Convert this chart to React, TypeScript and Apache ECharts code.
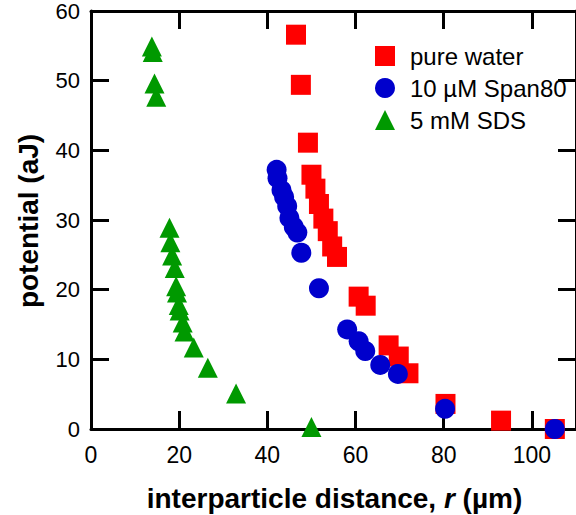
import React, { useEffect, useRef } from "react";
import * as echarts from "echarts";

const xTicks = [0, 20, 40, 60, 80, 100];
const yTicks = [0, 10, 20, 30, 40, 50, 60];
const X_MAX = 110;
const Y_MAX = 60;

const pureWater: number[][] = [
  [46.5, 56.6], [47.6, 49.4], [49.2, 41.1], [50.0, 36.5], [50.9, 34.5], [51.7, 32.3],
  [52.7, 30.2], [53.7, 28.4], [54.7, 26.2], [55.8, 24.7], [60.7, 19.0], [62.3, 17.7],
  [67.5, 12.0], [69.8, 10.4], [72.0, 8.0], [80.4, 3.6], [93.0, 1.2], [105.2, 0],
];

const span80: number[][] = [
  [42.1, 37.2], [42.3, 36.0], [43.2, 34.3], [43.8, 33.3], [44.5, 32.0], [45.0, 30.3],
  [46.0, 29.0], [46.8, 28.2], [47.7, 25.3], [51.7, 20.2], [58.1, 14.3], [60.7, 12.6],
  [62.2, 11.2], [65.6, 9.2], [69.6, 7.9], [80.3, 2.9], [105.2, 0],
];

const sds: number[][] = [
  [13.8, 54.9], [14.0, 54.1], [14.4, 49.6], [14.8, 47.7], [17.8, 28.9], [18.0, 26.8],
  [18.4, 24.9], [19.0, 23.1], [19.3, 20.5], [19.5, 19.6], [19.9, 17.8], [20.1, 17.0],
  [20.8, 15.3], [21.2, 14.0], [23.3, 11.7], [26.5, 8.8], [32.9, 5.1], [50.0, 0.3],
];

const seriesNames = ["pure water", "10 µM Span80", "5 mM SDS"];
const seriesColors = ["#ff0000", "#0000cc", "#009900"];
const seriesSymbols = ["rect", "circle", "triangle"];

const FONT = "'Liberation Sans', Arial, sans-serif";

const mkLine = () => ({ show: true, onZero: false, lineStyle: { color: "#000", width: 3 } });
const mkTick = () => ({ show: true, inside: true, length: 18, lineStyle: { color: "#000", width: 3 } });

export default function App() {
  const ref = useRef<HTMLDivElement>(null);
  useEffect(() => {
    if (!ref.current) return;
    const chart = echarts.init(ref.current, undefined, { renderer: "svg" });
    const datasets = [pureWater, span80, sds];
    chart.setOption({
      animation: false,
      backgroundColor: "#fff",
      grid: { left: 91, top: 11, width: 487, height: 418, containLabel: false },
      legend: {
        orient: "vertical",
        left: 370,
        top: 39,
        itemWidth: 20,
        itemHeight: 20,
        itemGap: 8,
        data: seriesNames,
        textStyle: { fontFamily: FONT, fontSize: 24, color: "#000", padding: [0, 0, 0, 10] },
      },
      xAxis: [
        {
          type: "value",
          position: "bottom",
          min: 0,
          max: X_MAX,
          interval: 20,
          axisLine: mkLine(),
          axisTick: mkTick(),
          splitLine: { show: false },
          axisLabel: {
            margin: 14,
            fontFamily: FONT,
            fontSize: 23,
            color: "#000",
            showMaxLabel: false,
            formatter: (v: number) => (xTicks.includes(v) ? String(v) : ""),
          },
        },
        {
          type: "value",
          position: "top",
          min: 0,
          max: X_MAX,
          interval: 20,
          axisLine: mkLine(),
          axisTick: mkTick(),
          splitLine: { show: false },
          axisLabel: { show: false },
        },
      ],
      yAxis: [
        {
          type: "value",
          position: "left",
          min: 0,
          max: Y_MAX,
          interval: 10,
          axisLine: mkLine(),
          axisTick: mkTick(),
          splitLine: { show: false },
          axisLabel: {
            margin: 11,
            fontFamily: FONT,
            fontSize: 22,
            color: "#000",
            formatter: (v: number) => (yTicks.includes(v) ? String(v) : ""),
          },
        },
        {
          type: "value",
          position: "right",
          min: 0,
          max: Y_MAX,
          interval: 10,
          axisLine: mkLine(),
          axisTick: mkTick(),
          splitLine: { show: false },
          axisLabel: { show: false },
        },
      ],
      graphic: [
        {
          type: "text",
          x: 334.5,
          y: 498,
          style: {
            text: "{b|interparticle distance, }{i|r}{b| (µm)}",
            align: "center",
            verticalAlign: "middle",
            rich: {
              b: { fontFamily: FONT, fontSize: 28, fontWeight: "bold", fill: "#000" },
              i: { fontFamily: FONT, fontSize: 28, fontWeight: "bold", fontStyle: "italic", fill: "#000" },
            },
          },
        },
        {
          type: "text",
          x: 28.5,
          y: 221,
          rotation: Math.PI / 2,
          style: {
            text: "potential (aJ)",
            align: "center",
            verticalAlign: "middle",
            fontFamily: FONT,
            fontSize: 28,
            fontWeight: "bold",
            fill: "#000",
          },
        },
      ],
      series: datasets.map((d, i) => ({
        type: "scatter",
        name: seriesNames[i],
        data: d,
        symbol: seriesSymbols[i],
        symbolSize: 20,
        itemStyle: { color: seriesColors[i], opacity: 1 },
        xAxisIndex: 0,
        yAxisIndex: 0,
        z: 2 + i,
      })),
    });
    return () => chart.dispose();
  }, []);
  return (
    <div
      ref={ref}
      style={{ position: "fixed", left: 0, top: 0, width: 576, height: 515 }}
    />
  );
}
